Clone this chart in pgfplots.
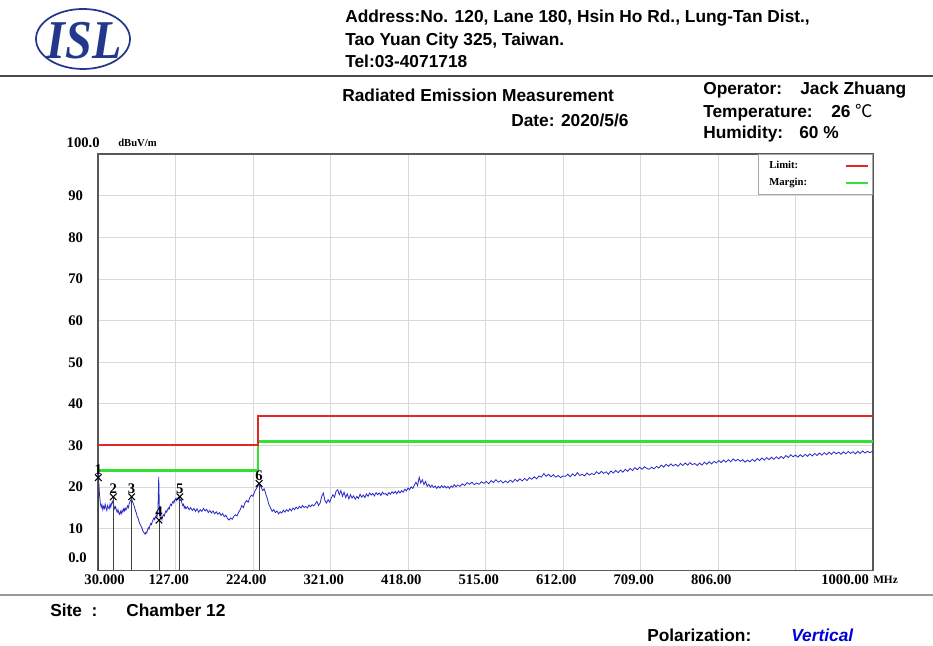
\documentclass[border=0pt]{standalone}
\usepackage{pgfplots}
\pgfplotsset{compat=1.18}
\usepackage{fontspec}
\setmainfont{Liberation Sans}
\newfontfamily\tickfont{Liberation Serif}
\newfontfamily\cjk{Noto Sans CJK SC}
\definecolor{limitred}{RGB}{225,40,40}
\definecolor{margingreen}{RGB}{50,225,50}
\definecolor{traceblue}{RGB}{40,40,200}
\definecolor{navy}{RGB}{35,55,140}
\begin{document}
\begin{tikzpicture}[x=0.75pt,y=0.75pt]
\path[use as bounding box] (0,0) rectangle (933,646);
% logo
\draw[navy, line width=1.3pt] (83,607) ellipse [x radius=47, y radius=30];
\node[navy, font=\tickfont\bfseries\itshape\fontsize{41}{41}\selectfont, xscale=0.88] at (84,605) {ISL};
% header
\begin{scope}[every node/.style={anchor=base west, inner sep=0pt, font=\bfseries\fontsize{13}{15}\selectfont}]
\node at (345,623) {Address:No. 120, Lane 180, Hsin Ho Rd., Lung-Tan Dist.,};
\node at (345,600) {Tao Yuan City 325, Taiwan.};
\node at (345,578) {Tel:03-4071718};
\node at (342,544) {Radiated Emission Measurement};
\node at (511,519) {Date: 2020/5/6};
\node at (703,551) {Operator:};
\node at (800,551) {Jack Zhuang};
\node at (703,528) {Temperature:};
\node at (831,528) {26 {\cjk\mdseries ℃}};
\node at (703,507) {Humidity:};
\node at (799,507) {60 \%};
\node at (50,29) {Site\ \ :};
\node at (126,29) {Chamber 12};
\node at (647,4) {Polarization:};
\node[font=\bfseries\itshape\fontsize{13}{15}\selectfont, text=blue!85!black] at (791,4) {Vertical};
\end{scope}
\draw[gray!60!black, line width=1.5pt] (0,570) -- (933,570);
\draw[gray!80, line width=1.5pt] (0,51) -- (933,51);
% extra labels
\node[anchor=east, inner sep=0pt, font=\tickfont\bfseries\fontsize{11}{13}\selectfont] at (100,503) {100.0};
\node[anchor=west, inner sep=0pt, font=\tickfont\bfseries\fontsize{8}{10}\selectfont] at (118,503) {dBuV/m};
\node[anchor=east, inner sep=0pt, font=\tickfont\bfseries\fontsize{11}{13}\selectfont] at (87,88) {0.0};
\node[anchor=west, inner sep=0pt, font=\tickfont\bfseries\fontsize{11}{13}\selectfont] at (821,66) {1000.00};
\node[anchor=west, inner sep=0pt, font=\tickfont\bfseries\fontsize{8.5}{10}\selectfont] at (873,66) {MHz};
\begin{axis}[
  at={(73.5pt,56.625pt)}, anchor=south west,
  scale only axis, width=581.25pt, height=312.4pt,
  xmin=30, xmax=1000, ymin=0, ymax=100,
  xtick={30,127,...,1000},
  xticklabels={\hspace*{20pt}30.000,127.00,224.00,321.00,418.00,515.00,612.00,709.00,806.00,,},
  ytick={0,10,...,100},
  yticklabels={,10,20,30,40,50,60,70,80,90,},
  major tick length=0pt,
  grid=major,
  major grid style={gray!30, line width=0.6pt},
  axis line style={gray!70!black, line width=0.9pt},
  tick label style={font=\tickfont\bfseries\fontsize{11}{13}\selectfont},
  xticklabel style={xshift=-5pt},
  yticklabel style={anchor=east, inner sep=0pt, xshift=-11pt},
  legend style={at={(1,1)}, anchor=north east, draw=gray!70,
    font=\tickfont\bfseries\fontsize{8}{10}\selectfont, row sep=2pt, inner sep=3pt},
  legend plot pos=right,
  legend cell align=left,
  legend image code/.code={\draw[#1] (0pt,0pt) -- (16pt,0pt);},
  every legend image post/.style={line width=1.6pt},
  clip=false,
]
\addlegendimage{draw=limitred}
\addlegendentry{\hspace*{3pt}\makebox[55pt][l]{Limit:}}
\addlegendimage{draw=margingreen}
\addlegendentry{\hspace*{3pt}\makebox[55pt][l]{Margin:}}
\addplot[traceblue, line width=0.6pt, forget plot] coordinates {
(30,25.5) (30.5,23) (31,21) (32,18) (33,16) (34,15.2) (35,15.8) (36,14.6) (37,15.4) (38,14.9) (39,15.9) (40,15.0)
(41,14.4) (42,15.6) (43,15.1) (44,14.8) (45,15.9) (46,15.2) (47,16.1) (48,16.6) (49,16.0) (50,15.4) (51,14.8) (52,15.3)
(53,14.5) (54,14.0) (55,14.6) (56,13.8) (57,13.5) (58,14.2) (59,13.6) (60,14.4) (61,14.0) (62,14.8) (63,14.3) (64,15.0)
(65,14.5) (66,14.9) (67,15.5) (68,15.1) (69,16.0) (70,16.5) (71,16.9) (72,17.2) (73,16.6) (74,16.2) (75,15.6) (76,15.0)
(77,14.3) (78,13.8) (79,13.0) (80,12.6) (81,12.0) (82,11.4) (83,11.0) (84,10.6) (85,10.2) (86,9.6) (87,9.2) (88,9.0)
(89,8.7) (90,9.2) (91,9.0) (92,9.7) (93,10.3) (94,10.0) (95,10.8) (96,11.3) (97,11.0) (98,11.8) (99,12.2) (100,12.6)
(101,12.2) (102,12.9) (103,13.3) (104,13.0) (105,14.5) (105.5,18) (106,22.5) (106.5,18) (107,13.5) (108,12.5) (109,12.8)
(110,12.2) (111,13.0) (112,13.4) (113,13.1) (114,13.8) (115,14.3) (116,14.0) (117,14.6) (118,15.0) (119,14.7) (120,15.5)
(121,15.9) (122,15.6) (123,16.3) (124,16.6) (125,16.2) (126,16.9) (127,17.2) (128,16.8) (129,17.4) (130,17.0) (131,17.6)
(132,17.3) (133,16.8) (134,17.1) (135,16.2) (136,15.6) (137,15.9) (138,15.0) (139,15.4) (140,14.8) (142,15.3) (144,14.6)
(146,15.1) (148,14.4) (150,14.9) (152,14.2) (154,14.8) (156,14.0) (158,14.6) (160,14.2) (162,14.9) (164,14.3) (166,14.7)
(168,13.9) (170,14.4) (172,13.8) (174,14.3) (176,13.6) (178,14.1) (180,13.5) (182,13.9) (184,13.2) (186,13.7) (188,12.9)
(190,13.3) (192,12.5) (194,12.1) (196,12.6) (198,12.3) (200,13.0) (202,13.4) (204,13.1) (206,14.0) (208,14.6) (210,15.6)
(212,15.1) (214,16.3) (216,16.8) (218,16.4) (220,17.5) (222,18.1) (224,17.8) (226,18.9) (228,19.6) (230,20.3) (232,20.6)
(234,20.1) (236,19.2) (238,19.6) (240,18.4) (242,17.2) (244,15.8) (246,15.0) (248,14.2) (250,14.6) (252,13.9) (254,14.3)
(256,13.6) (258,14.1) (260,13.8) (262,14.5) (264,14.0) (266,14.6) (268,14.2) (270,14.8) (272,14.3) (274,15.0) (276,14.6)
(278,15.2) (280,14.8) (282,15.4) (284,15.0) (286,15.6) (288,15.1) (290,15.4) (292,15.0) (294,15.7) (296,15.3) (298,15.8)
(300,15.5) (302,16.0) (304,16.6) (306,15.6) (308,16.2) (310,17.8) (312,18.6) (314,16.8) (316,16.2) (318,17.0) (320,16.4)
(322,17.4) (324,18.2) (326,17.6) (328,19.0) (330,19.4) (332,18.2) (334,19.2) (336,17.8) (338,18.8) (340,17.5) (342,18.4)
(344,17.2) (346,18.2) (348,17.4) (350,17.9) (352,17.1) (354,17.8) (356,17.3) (358,18.3) (360,17.6) (362,18.1) (364,17.5)
(366,18.4) (368,17.8) (370,18.6) (372,18.1) (374,18.5) (376,17.9) (378,18.7) (380,18.2) (382,18.6) (384,18.0) (386,18.8)
(388,18.3) (390,18.5) (392,18.0) (394,18.7) (396,18.3) (398,18.9) (400,18.5) (402,19.0) (404,18.4) (406,19.1) (408,18.6)
(410,19.2) (412,18.8) (414,19.5) (416,19.1) (418,19.8) (420,19.4) (422,20.1) (424,19.7) (426,20.5) (428,21.2) (430,20.4)
(432,22.4) (434,21.0) (436,21.8) (438,20.6) (440,21.4) (442,20.2) (444,20.7) (446,20.0) (448,20.5) (450,19.9) (452,20.3)
(454,19.7) (456,20.2) (458,19.8) (460,20.4) (462,19.9) (464,20.3) (466,19.8) (468,20.2) (470,19.7) (472,20.3) (474,20.0)
(476,20.6) (478,20.1) (480,20.5) (483,20.2) (486,20.8) (489,20.4) (492,21.1) (495,20.7) (498,21.2) (501,20.6) (504,21.0)
(507,20.7) (510,21.3) (513,20.9) (516,21.4) (519,20.8) (522,21.6) (525,21.1) (528,21.8) (531,21.2) (534,21.6) (537,21.0)
(540,21.5) (543,21.1) (546,21.7) (549,21.2) (552,21.9) (555,21.4) (558,22.0) (561,21.5) (564,22.1) (567,21.6) (570,22.3)
(573,21.9) (576,22.5) (579,22.0) (582,22.7) (585,22.4) (588,23.3) (591,22.6) (594,23.1) (597,22.5) (600,23.0) (603,22.4)
(606,22.8) (609,22.3) (612,22.7) (615,22.6) (618,23.1) (621,22.5) (624,23.2) (627,22.7) (630,23.5) (633,22.8) (636,23.1)
(639,22.7) (642,23.4) (645,22.9) (648,23.3) (651,23.0) (654,23.7) (657,23.2) (660,23.8) (663,23.3) (666,23.7) (669,23.1)
(672,23.9) (675,23.4) (678,24.0) (681,23.5) (684,24.1) (687,23.6) (690,24.3) (693,23.8) (696,24.5) (699,24.0) (702,24.7)
(705,24.2) (708,24.8) (711,24.3) (714,24.9) (717,24.5) (720,24.3) (723,24.8) (726,24.4) (729,25.0) (732,24.6) (735,25.3)
(738,24.8) (741,25.5) (744,25.0) (747,25.6) (750,25.1) (753,25.5) (756,25.0) (759,25.7) (762,25.2) (765,25.8) (768,25.3)
(771,25.9) (774,25.4) (777,25.7) (780,25.2) (783,25.8) (786,25.3) (789,26.0) (792,25.5) (795,26.1) (798,25.6) (801,26.2)
(804,25.8) (807,26.4) (810,25.9) (813,26.5) (816,26.0) (819,26.6) (822,26.1) (825,26.8) (828,26.3) (831,26.7) (834,26.2)
(837,26.6) (840,26.0) (843,26.5) (846,26.1) (849,26.7) (852,26.2) (855,26.9) (858,26.4) (861,27.0) (864,26.5) (867,27.1)
(870,26.6) (873,27.2) (876,26.7) (879,27.3) (882,26.8) (885,27.4) (888,26.9) (891,27.6) (894,27.1) (897,27.8) (900,27.3)
(903,27.7) (906,27.2) (909,27.8) (912,27.3) (915,27.9) (918,27.4) (921,28.0) (924,27.5) (927,28.1) (930,27.6) (933,28.2)
(936,27.7) (939,28.3) (942,27.8) (945,28.4) (948,27.9) (951,28.5) (954,28.0) (957,28.4) (960,27.9) (963,28.5) (966,28.0)
(969,28.6) (972,28.1) (975,28.5) (978,28.0) (981,28.6) (984,28.1) (987,28.7) (990,28.2) (993,28.6) (996,28.3) (1000,28.7)
};
\addplot[ycomb, gray!50!black, line width=0.6pt, forget plot,
  mark=x, mark size=3.5pt, mark options={black, line width=0.8pt},
  point meta=explicit symbolic,
  nodes near coords={\pgfplotspointmeta},
  nodes near coords style={anchor=south, inner sep=1pt, yshift=1pt, black, font=\tickfont\bfseries\fontsize{11}{13}\selectfont}]
coordinates {(30.4,22.3)[1] (49.1,17.7)[2] (72.1,17.7)[3] (106.3,12.1)[4] (132.5,17.7)[5] (231.7,20.9)[6]};
\addplot[draw=margingreen, line width=1.8pt, forget plot] coordinates {(30,24) (230,24) (230,31) (1000,31)};
\addplot[draw=limitred, line width=1.6pt, forget plot] coordinates {(30,30.05) (230,30.05) (230,37) (1000,37)};
\end{axis}
\end{tikzpicture}
\end{document}
